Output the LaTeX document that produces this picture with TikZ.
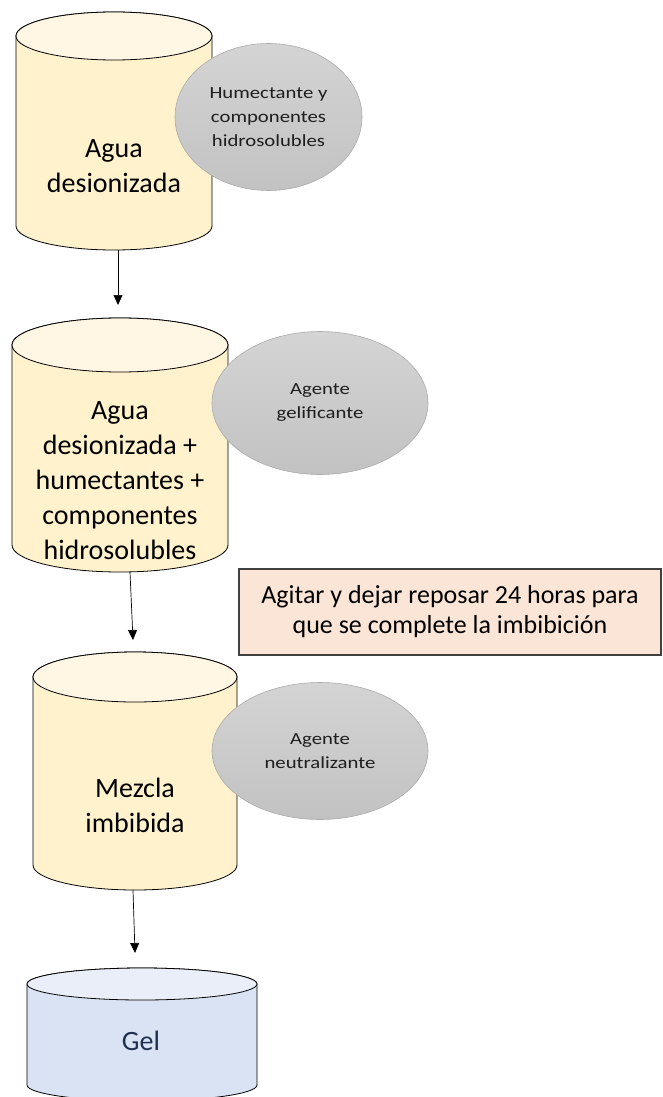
\documentclass[tikz,border=0pt]{standalone}
\usepackage{fontspec}
\setmainfont{Carlito}
\newfontfamily\ellfont[FakeStretch=1.22]{Carlito}
\usetikzlibrary{arrows.meta,shapes.geometric}
\definecolor{cylside}{HTML}{FFF2CC}
\definecolor{cyltop}{HTML}{FFF7E3}
\definecolor{gelside}{HTML}{DAE3F3}
\definecolor{geltop}{HTML}{E9EEF8}
\definecolor{elltop}{HTML}{D4D4D4}
\definecolor{ellbot}{HTML}{C2C2C2}
\definecolor{ellborder}{HTML}{ABABAB}
\definecolor{ellink}{HTML}{1E1E1E}
\definecolor{notefill}{HTML}{FBE5D6}
\definecolor{noteborder}{HTML}{404040}
\definecolor{gelink}{HTML}{1F3050}
% #1 x-left, #2 x-right, #3 top, #4 bottom, #5 ry, #6 side colour, #7 top colour
\newcommand\drawcyl[7]{%
  \pgfmathsetmacro\cylcx{(#1+#2)/2}%
  \pgfmathsetmacro\cylrx{(#2-#1)/2}%
  \filldraw[cylline, fill=#6] (#1,#3+#5) -- (#1,#4-#5)
     arc[start angle=180, end angle=360, x radius=\cylrx pt, y radius=#5 pt]
     -- (#2,#3+#5)
     arc[start angle=0, end angle=180, x radius=\cylrx pt, y radius=#5 pt] -- cycle;
  \filldraw[cylline, fill=#7] (\cylcx,#3+#5) ellipse[x radius=\cylrx pt, y radius=#5 pt];
}
\begin{document}
\begin{tikzpicture}[x=1pt,y=-1pt,
  cylline/.style={draw=black, line width=0.8pt},
  maintext/.style={align=center, font=\fontsize{28}{35}\selectfont, inner sep=0pt},
  agent/.style={ellipse, draw=ellborder, line width=0.6pt, top color=elltop, bottom color=ellbot,
     inner sep=0pt, outer sep=0pt, align=center, text=ellink,
     font=\ellfont\fontsize{17}{24}\selectfont},
  note/.style={draw=noteborder, line width=1.1pt, fill=notefill, align=center, inner sep=0pt,
     font=\fontsize{26}{30}\selectfont},
  arr/.style={line width=0.7pt, -{Triangle[length=10pt,width=9pt]}}]
\useasboundingbox (0,0) rectangle (662,1097);

% cylinder 1
\drawcyl{16}{212}{12}{250}{24}{cylside}{cyltop}
\node[maintext] (c1) at (114,166) {Agua\\desionizada};
\node[agent, minimum width=187pt, minimum height=147pt] (e1) at (268.5,117) {Humectante y\\componentes\\hidrosolubles};

% cylinder 2
\drawcyl{12}{228}{318}{572}{27}{cylside}{cyltop}
\node[maintext] (c2) at (120,481) {Agua\\desionizada +\\humectantes +\\componentes\\hidrosolubles};
\node[agent, minimum width=216pt, minimum height=143pt] (e2) at (320,403) {Agente\\gelificante};

% note box
\node[note, minimum width=422pt, minimum height=86pt] (n1) at (450,612) {Agitar y dejar reposar 24 horas para\\que se complete la imbibici\'on};

% cylinder 3
\drawcyl{33}{237}{652}{890}{25}{cylside}{cyltop}
\node[maintext] (c3) at (135,805) {Mezcla\\imbibida};
\node[agent, minimum width=216pt, minimum height=137pt] (e3) at (320,751) {Agente\\neutralizante};

% cylinder 4 (Gel)
\drawcyl{27}{257}{968}{1101}{16}{gelside}{geltop}
\node[maintext, text=gelink] (c4) at (141,1041) {Gel};

% arrows
\coordinate (a1s) at (118,250);
\coordinate (a1e) at (118,305);
\coordinate (a2s) at (130,572);
\coordinate (a2e) at (133,640);
\coordinate (a3s) at (133,890);
\coordinate (a3e) at (135,953);
\draw[arr] (a1s) -- (a1e);
\draw[arr] (a2s) -- (a2e);
\draw[arr] (a3s) -- (a3e);
\end{tikzpicture}
\end{document}
